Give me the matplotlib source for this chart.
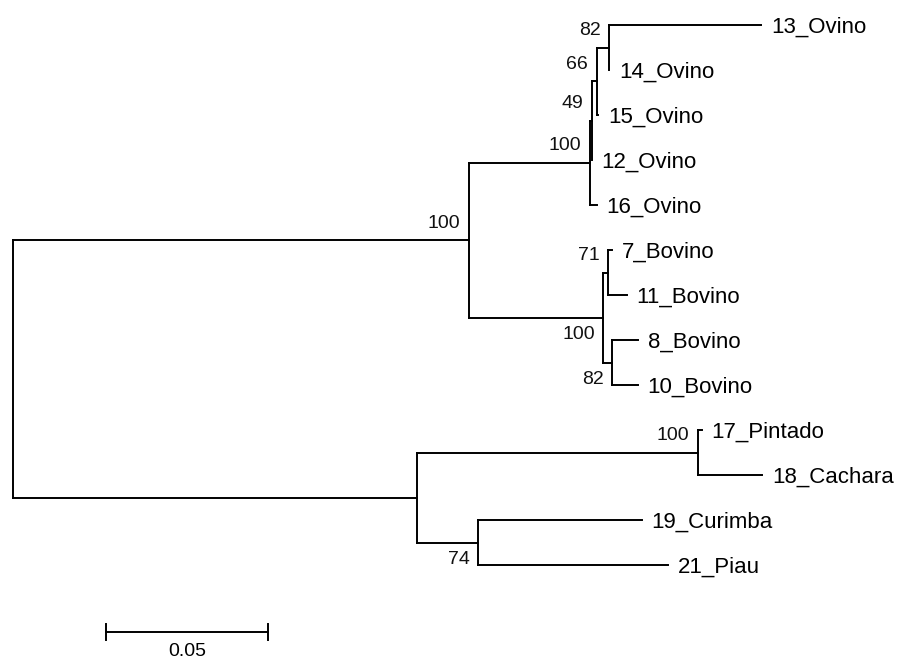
import matplotlib
matplotlib.use('Agg')
import matplotlib.pyplot as plt

# tree as parent list, children drawn top to bottom in list order
names = ['root', 'A', 'B',
         'Ov100', 'Ov49', 'Ov66', 'Ov82',
         '13_Ovino', '14_Ovino', '15_Ovino', '12_Ovino', '16_Ovino',
         'Bo100', 'Bo71', 'Bo82',
         '7_Bovino', '11_Bovino', '8_Bovino', '10_Bovino',
         'Pi100', '17_Pintado', '18_Cachara',
         'Cu74', '19_Curimba', '21_Piau']
parents = [None, 'root', 'root',
           'A', 'Ov100', 'Ov49', 'Ov66',
           'Ov82', 'Ov82', 'Ov66', 'Ov49', 'Ov100',
           'A', 'Bo100', 'Bo100',
           'Bo71', 'Bo71', 'Bo82', 'Bo82',
           'B', 'Pi100', 'Pi100',
           'B', 'Cu74', 'Cu74']
lengths = [0.0, 0.1407, 0.1247,
           0.0373, 0.0006, 0.0015, 0.0040,
           0.0469, 0.0, 0.0006, 0.0, 0.0022,
           0.0414, 0.0015, 0.0028,
           0.0012, 0.0059, 0.0080, 0.0080,
           0.0867, 0.0012, 0.0198,
           0.0188, 0.0506, 0.0586]
support = {'A': 100, 'Ov100': 100, 'Ov49': 49, 'Ov66': 66, 'Ov82': 82,
           'Bo100': 100, 'Bo71': 71, 'Bo82': 82, 'Pi100': 100, 'Cu74': 74}
scale_len = 0.05

children = {n: [] for n in names}
for n, p in zip(names, parents):
    if p is not None:
        children[p].append(n)
blen = dict(zip(names, lengths))

# x = distance from root, y = leaf order
xpos, ypos = {}, {}
leaf_count = [0]


def layout(node, x):
    xpos[node] = x
    kids = children[node]
    if not kids:
        ypos[node] = leaf_count[0]
        leaf_count[0] += 1
        return
    for k in kids:
        layout(k, x + blen[k])
    ypos[node] = (ypos[kids[0]] + ypos[kids[-1]]) / 2


layout('root', 0.0)

fig = plt.figure(figsize=(9.01, 6.61), dpi=100)
ax = fig.add_axes([0, 0, 1, 1])
px = 1 / 3240  # data units per pixel in x
ax.set_xlim(-13 * px, 888 * px)
ax.set_ylim((661 - 25) / 45, -25 / 45)
ax.axis('off')

lw = 1.4
for n in names:
    kids = children[n]
    if kids:
        ax.plot([xpos[n], xpos[n]], [ypos[kids[0]], ypos[kids[-1]]],
                color='black', lw=lw, solid_capstyle='projecting')
        for k in kids:
            ax.plot([xpos[n], xpos[k]], [ypos[k], ypos[k]],
                    color='black', lw=lw, solid_capstyle='projecting')
    else:
        ax.annotate(n, (xpos[n], ypos[n]), xytext=(7, -5.5),
                    textcoords='offset points', ha='left', va='baseline',
                    fontsize=16, family='Liberation Sans')

# bootstrap values: above branch for upper child, below for lower child
for n, val in support.items():
    p = parents[names.index(n)]
    upper = children[p][0] == n
    dy = 6 if upper else -6
    ax.annotate(str(val), (xpos[n], ypos[n]), xytext=(-6, dy),
                textcoords='offset points', ha='right',
                va='bottom' if upper else 'top',
                fontsize=14, family='Liberation Sans', color='#111111')

# scale bar
sx = 93 * px
sy = (632 - 25) / 45
ax.plot([sx, sx + scale_len], [sy, sy], color='black', lw=lw)
for xx in (sx, sx + scale_len):
    ax.plot([xx, xx], [sy - 0.18, sy + 0.18], color='black', lw=lw)
ax.annotate(f'{scale_len:.2f}', (sx + scale_len / 2, sy), xytext=(0, -8),
            textcoords='offset points', ha='center', va='top',
            fontsize=14, family='Liberation Sans')

fig.savefig('out.png', dpi=100)
